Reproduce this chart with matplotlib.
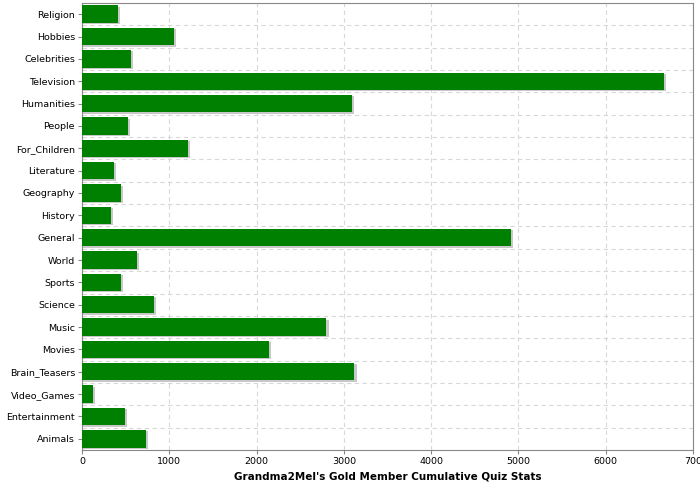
import matplotlib
matplotlib.use("Agg")
import matplotlib.pyplot as plt

categories = ["Religion", "Hobbies", "Celebrities", "Television", "Humanities", "People",
              "For_Children", "Literature", "Geography", "History", "General", "World",
              "Sports", "Science", "Music", "Movies", "Brain_Teasers", "Video_Games",
              "Entertainment", "Animals"]
values = [416, 1054, 561, 6667, 3093, 527, 1214, 367, 447, 332, 4914, 630,
          447, 825, 2800, 2137, 3120, 126, 491, 731]

fig = plt.figure(figsize=(7, 5), dpi=100)
ax = fig.add_axes([82 / 700, 50 / 500, 611 / 700, 447 / 500])

y = list(range(len(categories)))
# shadow
ax.barh([i + 0.06 for i in y], [v + 25 for v in values], height=0.78, color="#c8c8c8", zorder=2)
ax.barh(y, values, height=0.78, color="#008000", zorder=3)

ax.set_ylim(len(categories) - 0.5, -0.5)
ax.set_xlim(0, 7000)
ax.set_yticks(y)
ax.set_yticklabels(categories, fontsize=6.8)
ax.set_xticks(range(0, 7001, 1000))
ax.set_xticklabels([str(v) for v in range(0, 7000, 1000)] + ["700"])
ax.tick_params(axis="x", labelsize=6.8)
ax.tick_params(length=3, color="#888888", pad=2)
ax.set_yticks([i + 0.5 for i in y], minor=True)
ax.tick_params(axis="y", which="minor", length=0)
ax.grid(True, which="minor", axis="y", linestyle=(0, (4, 3)), color="#d8d8d8", linewidth=0.8)
ax.grid(True, which="major", axis="x", linestyle=(0, (4, 3)), color="#d8d8d8", linewidth=0.8)
ax.set_axisbelow(True)
for s in ax.spines.values():
    s.set_color("#888888")
ax.set_xlabel("Grandma2Mel's Gold Member Cumulative Quiz Stats", fontsize=7.5, fontweight="bold")

fig.savefig("out.png", dpi=100)
